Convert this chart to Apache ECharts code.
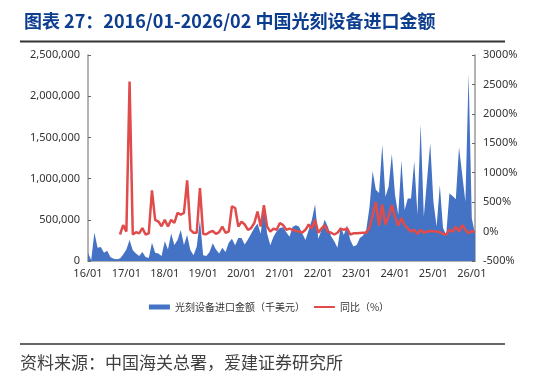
<!DOCTYPE html>
<html>
<head>
<meta charset="utf-8">
<script src="https://cdn.jsdelivr.net/npm/echarts@6/dist/echarts.min.js"></script>
<style>
  html, body { margin: 0; padding: 0; background: #fff; }
  #chart { width: 538px; height: 377px; }
</style>
</head>
<body>
<div id="chart"></div>
<script>
// 月份：2016/01 - 2026/02
var years = ['16', '17', '18', '19', '20', '21', '22', '23', '24', '25', '26']
var months = ['01', '02', '03', '04', '05', '06', '07', '08', '09', '10', '11', '12']
var categories = []
years.forEach(function (y) {
  months.forEach(function (m) {
    if (y === '26' && m > '02') return
    categories.push(y + '/' + m)
  })
})

// 光刻设备进口金额（千美元）
var importValue = [
  100000, 10000, 345000, 160000, 170000, 100000, 125000, 50000, 27000, 20000, 30000, 80000,
  140000, 255000, 130000, 90000, 60000, 110000, 50000, 35000, 220000, 100000, 90000, 60000,
  240000, 140000, 335000, 195000, 255000, 375000, 195000, 315000, 135000, 70000, 175000, 500000,
  70000, 60000, 110000, 215000, 140000, 90000, 160000, 110000, 220000, 270000, 190000, 280000,
  280000, 200000, 260000, 330000, 400000, 455000, 330000, 660000, 335000, 190000, 295000, 360000,
  400000, 410000, 350000, 295000, 415000, 435000, 415000, 335000, 255000, 375000, 500000, 690000,
  270000, 375000, 500000, 415000, 300000, 240000, 160000, 415000, 315000, 435000, 255000, 175000,
  195000, 280000, 310000, 380000, 650000, 1090000, 865000, 825000, 1410000, 780000, 905000, 1300000,
  800000, 560000, 1220000, 620000, 760000, 760000, 1210000, 560000, 1660000, 540000, 980000, 1430000,
  720000, 420000, 920000, 400000, 320000, 820000, 790000, 750000, 1380000, 1050000, 720000, 2270000,
  520000, 330000
]

// 同比（%）
var yoy = [
  null, null, null, null, null, null, null, null, null, null, -50, 110,
  0, 2550, -50, -10, -30, 60, -50, -30, 700, 200, 170, 90,
  200, 85, 200, 148, 318, 285, 318, 870, 30, -20, -20, 740,
  -40, -45, -10, 10, -40, -10, 85, -20, 0, 430, 400, 85,
  170, 120, 30, 60, 145, 340, 85, 450, 85, 0, 50, 30,
  145, 110, 30, 50, 30, 10, 0, -15, 30, 120, 50, 200,
  -20, 50, 110, 0, -20, -50, -20, 50, 30, 55, -50, -30,
  -30, -25, -20, -20, 60, 280, 500, 100, 460, 120, 260, 450,
  250, 100, 230, 110, 55, 0, 30, -40, 30, -20, 0, 10,
  5, 0, -10, -40, -50, 30, 0, 85, 0, 110, 30, -30,
  10, -10
]

var chart = echarts.init(document.getElementById('chart'))
var yearTick = function (idx) { return idx % 12 === 0 }
var axisFont = { color: '#333', fontSize: 11, fontFamily: 'Noto Sans, sans-serif' }

chart.setOption({
  animation: false,
  title: {
    text: '图表 27：2016/01-2026/02 中国光刻设备进口金额',
    left: 19,
    top: 7,
    textStyle: {
      color: '#0C3D8F',
      fontSize: 18,
      fontWeight: 'bold',
      fontFamily: 'Noto Sans CJK SC, sans-serif'
    }
  },
  graphic: [
    { type: 'line', shape: { x1: 20, y1: 41.5, x2: 505, y2: 41.5 }, style: { stroke: '#333', lineWidth: 2 } },
    { type: 'line', shape: { x1: 20, y1: 344, x2: 505, y2: 344 }, style: { stroke: '#333', lineWidth: 1.5 } },
    {
      type: 'text', left: 20, top: 354,
      style: { text: '资料来源：中国海关总署，爱建证券研究所', fill: '#404040', font: '17px "Noto Sans CJK SC"' }
    }
  ],
  legend: {
    top: 297,
    left: 'center',
    itemWidth: 21,
    itemHeight: 5,
    itemGap: 8,
    textStyle: { color: '#333', fontSize: 10, fontFamily: 'Noto Sans CJK SC' },
    data: [
      { name: '光刻设备进口金额（千美元）', icon: 'rect' },
      { name: '同比（%）', itemStyle: { opacity: 0 } }
    ]
  },
  grid: { left: 88, right: 63, top: 55, bottom: 116 },
  xAxis: {
    type: 'category',
    data: categories,
    boundaryGap: false,
    axisLine: { lineStyle: { color: '#999', width: 1.5 } },
    axisTick: { inside: true, length: 4, interval: yearTick, lineStyle: { color: '#666' } },
    axisLabel: Object.assign({ interval: yearTick, margin: 7 }, axisFont)
  },
  yAxis: [
    {
      type: 'value',
      min: 0,
      max: 2500000,
      interval: 500000,
      splitLine: { show: false },
      axisLine: { show: true, lineStyle: { color: '#999', width: 1.5 } },
      axisTick: { show: true, inside: true, length: 3, lineStyle: { color: '#666' } },
      axisLabel: Object.assign({
        margin: 8,
        formatter: function (v) { return v.toLocaleString('en-US') }
      }, axisFont)
    },
    {
      type: 'value',
      min: -500,
      max: 3000,
      interval: 500,
      splitLine: { show: false },
      axisLine: { show: true, lineStyle: { color: '#999', width: 1.5 } },
      axisTick: { show: true, inside: true, length: 3, lineStyle: { color: '#666' } },
      axisLabel: Object.assign({
        margin: 8,
        formatter: function (v) { return v + '%' }
      }, axisFont)
    }
  ],
  series: [
    {
      name: '光刻设备进口金额（千美元）',
      type: 'line',
      data: importValue,
      symbol: 'none',
      itemStyle: { color: '#4472C4' },
      lineStyle: { width: 0 },
      areaStyle: { color: '#4472C4', opacity: 1 }
    },
    {
      name: '同比（%）',
      type: 'line',
      yAxisIndex: 1,
      data: yoy,
      symbol: 'none',
      itemStyle: { color: '#E04B4B' },
      lineStyle: { color: '#E04B4B', width: 2.5 }
    }
  ]
})
</script>
</body>
</html>
